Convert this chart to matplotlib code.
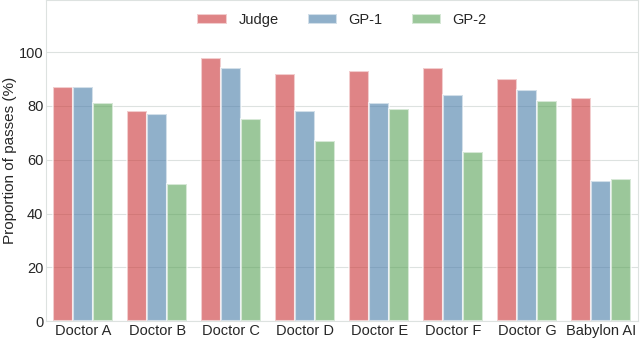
import matplotlib
matplotlib.use("Agg")
import matplotlib.pyplot as plt
import numpy as np
import seaborn as sns

categories = ["Doctor A", "Doctor B", "Doctor C", "Doctor D", "Doctor E",
              "Doctor F", "Doctor G", "Babylon AI"]
series_names = ["Judge", "GP-1", "GP-2"]
judge = [87, 78, 98, 92, 93, 94, 90, 83]
gp1 = [87, 77, 94, 78, 81, 84, 86, 52]
gp2 = [81, 51, 75, 67, 79, 63, 82, 53]
yticks = [0, 20, 40, 60, 80, 100]

sns.set_style("whitegrid")
plt.rcParams['font.family'] = ['Liberation Sans', 'DejaVu Sans']

palette = [sns.desaturate(c, 0.75) for c in sns.color_palette("Set1", 3)]

fig = plt.figure(figsize=(6.4, 3.38), dpi=100)
ax = fig.add_axes([0.072, 0.05, 0.925, 0.95])

x = np.arange(len(categories))
width = 0.8 / 3
for i, (name, vals) in enumerate(zip(series_names, [judge, gp1, gp2])):
    ax.bar(x + (i - 1) * width, vals, width, color=palette[i], alpha=0.6,
           edgecolor="white", linewidth=1.5, label=name, zorder=2)

ax.set_xlim(-0.5, len(categories) - 0.5)
ax.set_ylim(0, 119.4)
ax.set_yticks(yticks)
ax.set_xticks(x)
ax.set_xticklabels(categories)
ax.tick_params(axis="both", labelsize=10.5, pad=2, length=0)
ax.xaxis.grid(False)
ax.yaxis.grid(True, color="#dde2e0", linewidth=0.8)
for s in ax.spines.values():
    s.set_color("#dde2e0")
    s.set_linewidth(0.8)
ax.set_ylabel("Proportion of passes (%)", fontsize=11, labelpad=1)
leg = ax.legend(loc="upper center", ncol=3, frameon=False, fontsize=10.5,
                bbox_to_anchor=(0.5, 1.0), columnspacing=2.0)

fig.savefig("out.png", dpi=100)
